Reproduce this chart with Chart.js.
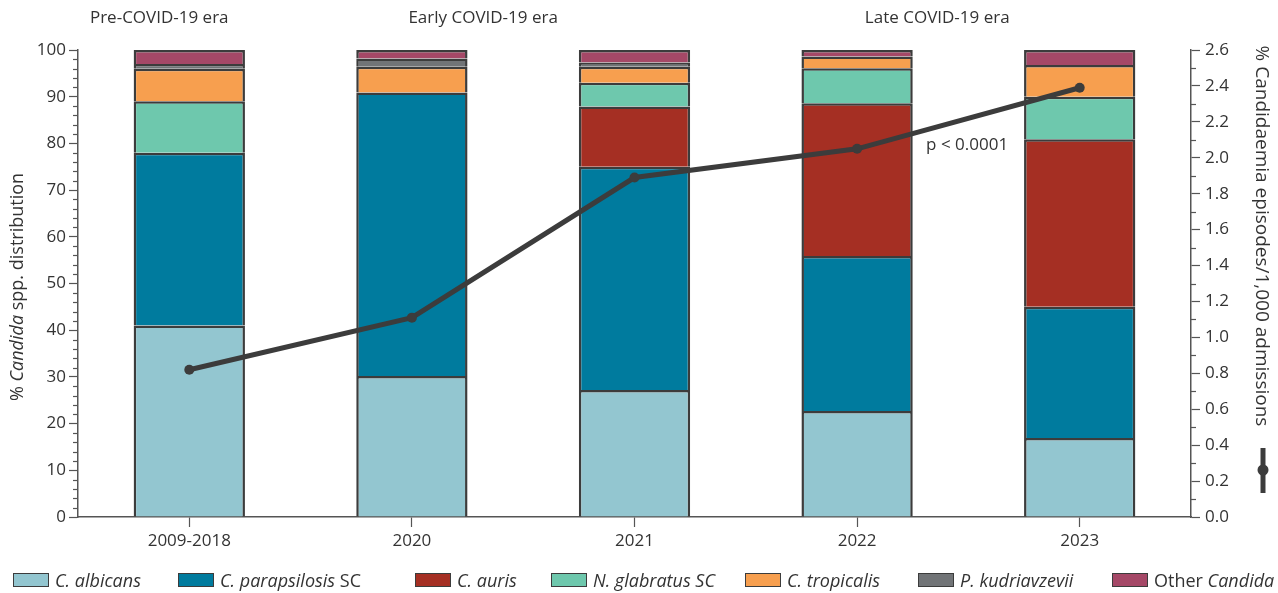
<!DOCTYPE html>
<html>
<head>
<meta charset="utf-8">
<script src="https://cdn.jsdelivr.net/npm/chart.js"></script>
<style>
    body { margin: 0; background: #fff; font-family: "Open Sans", sans-serif; }
    .wrap { position: relative; width: 1278px; height: 593px; overflow: hidden; }
    #myChart { position: absolute; left: 0; top: 0; }
    .leg { position: absolute; top: 569px; font-size: 18px; color: #333; white-space: nowrap; line-height: 22px; }
    .leg .box { display: inline-block; width: 34px; height: 12px; border: 1.5px solid #3c3c3c; vertical-align: 0px; margin-right: 6px; }
</style>
</head>
<body>
<div class="wrap">
    <canvas id="myChart" width="1278" height="593"></canvas>
    <div id="legend"></div>
</div>
<script type="text/javascript">
    const periods = ['2009-2018', '2020', '2021', '2022', '2023']
    // % distribution per species, one value per period
    const albicans     = [41.0, 30.2, 27.2, 22.7, 16.9]
    const parapsilosis = [37.0, 60.7, 47.8, 33.2, 28.1]
    const auris        = [0,    0,    12.9, 32.7, 35.9]
    const glabratus    = [11.0, 0,    5.1,  7.5,  9.1]
    const tropicalis   = [7.0,  5.5,  3.4,  2.5,  6.8]
    const kudriavzevii = [1.0,  1.8,  0.9,  0,    0]
    const otherSpp     = [3.0,  1.8,  2.7,  1.4,  3.2]
    // candidaemia episodes per 1,000 admissions
    const episodes     = [0.82, 1.11, 1.89, 2.05, 2.39]
    const eras = [['Pre-COVID-19 era', -0.135], ['Early COVID-19 era', 1.32], ['Late COVID-19 era', 3.36]]

    const dark = '#3c3c3c'
    const font = '"Open Sans", sans-serif'

    const species = [
        {label: 'C. albicans', parts: [['C. albicans', true]], data: albicans, color: '#93c6d0'},
        {label: 'C. parapsilosis SC', parts: [['C. parapsilosis', true], [' SC', false]], data: parapsilosis, color: '#007b9e'},
        {label: 'C. auris', parts: [['C. auris', true]], data: auris, color: '#a52f23'},
        {label: 'N. glabratus SC', parts: [['N. glabratus SC', true]], data: glabratus, color: '#6ec8ad'},
        {label: 'C. tropicalis', parts: [['C. tropicalis', true]], data: tropicalis, color: '#f79f4f'},
        {label: 'P. kudriavzevii', parts: [['P. kudriavzevii', true]], data: kudriavzevii, color: '#717477'},
        {label: 'Other Candida spp.', parts: [['Other ', false], ['Candida', true], [' spp.', false]], data: otherSpp, color: '#a54867'}
    ]
    const legendX = [13, 178, 415, 551, 745, 918, 1112]

    // html legend (mixed italic)
    const legend = document.getElementById('legend')
    species.forEach((s, i) => {
        const d = document.createElement('div')
        d.className = 'leg'
        d.style.left = legendX[i] + 'px'
        let html = '<span class="box" style="background:' + s.color + '"></span>'
        s.parts.forEach(p => { html += p[1] ? '<i>' + p[0] + '</i>' : p[0] })
        d.innerHTML = html
        legend.appendChild(d)
    })

    function drawMixed(ctx, parts, size) {
        let w = 0
        parts.forEach(p => { ctx.font = (p[1] ? 'italic ' : '') + size + 'px ' + font; w += ctx.measureText(p[0]).width })
        let x = -w / 2
        parts.forEach(p => {
            ctx.font = (p[1] ? 'italic ' : '') + size + 'px ' + font
            ctx.fillText(p[0], x, 0)
            x += ctx.measureText(p[0]).width
        })
    }

    const extras = {
        id: 'extras',
        afterDraw(chart) {
            const ctx = chart.ctx
            const x = chart.scales.x, y = chart.scales.y, y1 = chart.scales.y1
            ctx.save()
            ctx.strokeStyle = '#555'
            ctx.lineWidth = 1.2
            // minor ticks
            for (let v = 0; v <= 100; v += 2) {
                if (v % 10 == 0) continue
                const py = Math.round(y.getPixelForValue(v)) + 0.5
                ctx.beginPath(); ctx.moveTo(y.right - 5, py); ctx.lineTo(y.right, py); ctx.stroke()
            }
            for (let k = 1; k < 26; k += 2) {
                const py = Math.round(y1.getPixelForValue(k / 10)) + 0.5
                ctx.beginPath(); ctx.moveTo(y1.left, py); ctx.lineTo(y1.left + 5, py); ctx.stroke()
            }
            ctx.fillStyle = '#333'
            ctx.textBaseline = 'middle'
            // era labels
            ctx.textAlign = 'center'
            ctx.font = '17px ' + font
            eras.forEach(e => ctx.fillText(e[0], x.getPixelForValue(e[1]), 18))
            // p value
            ctx.textAlign = 'left'
            ctx.fillText('p < 0.0001', x.getPixelForValue(3.31), y1.getPixelForValue(2.07))
            // axis titles
            ctx.save()
            ctx.translate(18, 287)
            ctx.rotate(-Math.PI / 2)
            drawMixed(ctx, [['% ', false], ['Candida', true], [' spp. distribution', false]], 18)
            ctx.restore()
            ctx.save()
            ctx.translate(1261, 236)
            ctx.rotate(Math.PI / 2)
            drawMixed(ctx, [['% Candidaemia episodes/1,000 admissions', false]], 19)
            ctx.restore()
            // line series key
            ctx.strokeStyle = dark
            ctx.lineWidth = 5
            ctx.beginPath(); ctx.moveTo(1263, 448); ctx.lineTo(1263, 493); ctx.stroke()
            ctx.fillStyle = dark
            ctx.beginPath(); ctx.arc(1263, 470, 5.5, 0, Math.PI * 2); ctx.fill()
            ctx.restore()
        }
    }

    const datasets = species.map(s => ({
        type: 'bar',
        label: s.label,
        data: s.data,
        backgroundColor: s.color,
        borderColor: dark,
        borderWidth: (c) => c.raw ? 2.5 : 0,
        borderSkipped: 'start',
        barPercentage: 0.5,
        categoryPercentage: 1,
        yAxisID: 'y',
        order: 1
    }))
    datasets.push({
        type: 'line',
        label: 'Candidaemia episodes',
        data: episodes,
        borderColor: dark,
        backgroundColor: dark,
        borderWidth: 5,
        pointRadius: 5,
        pointBackgroundColor: dark,
        pointBorderWidth: 0,
        tension: 0,
        yAxisID: 'y1',
        order: 0
    })

    const tickFont = {family: font, size: 17}
    var chart = new Chart(document.getElementById('myChart'), {
        data: {labels: periods, datasets: datasets},
        options: {
            responsive: false,
            animation: false,
            layout: {padding: {top: 50, left: 0, right: 0, bottom: 0}},
            plugins: {legend: {display: false}, tooltip: {enabled: false}},
            scales: {
                x: {
                    stacked: true,
                    grid: {offset: false, drawOnChartArea: false, tickLength: 10, tickColor: '#555', tickWidth: 1.2},
                    border: {color: '#555', width: 1.5},
                    ticks: {color: '#333', font: tickFont, padding: 4},
                    afterFit: (s) => { s.height = 76 }
                },
                y: {
                    stacked: true,
                    min: 0, max: 100,
                    grid: {drawOnChartArea: false, tickLength: 9, tickColor: '#555', tickWidth: 1.2},
                    border: {color: '#555', width: 1.5},
                    ticks: {stepSize: 10, color: '#333', font: tickFont, padding: 3},
                    afterFit: (s) => { s.width = 78 }
                },
                y1: {
                    position: 'right',
                    min: 0, max: 2.6,
                    grid: {drawOnChartArea: false, tickLength: 9, tickColor: '#555', tickWidth: 1.2},
                    border: {color: '#555', width: 1.5},
                    ticks: {stepSize: 0.2, color: '#333', font: tickFont, padding: 5, callback: (v) => v.toFixed(1)},
                    afterFit: (s) => { s.width = 87 }
                }
            }
        },
        plugins: [extras]
    });
</script>
</body>
</html>
